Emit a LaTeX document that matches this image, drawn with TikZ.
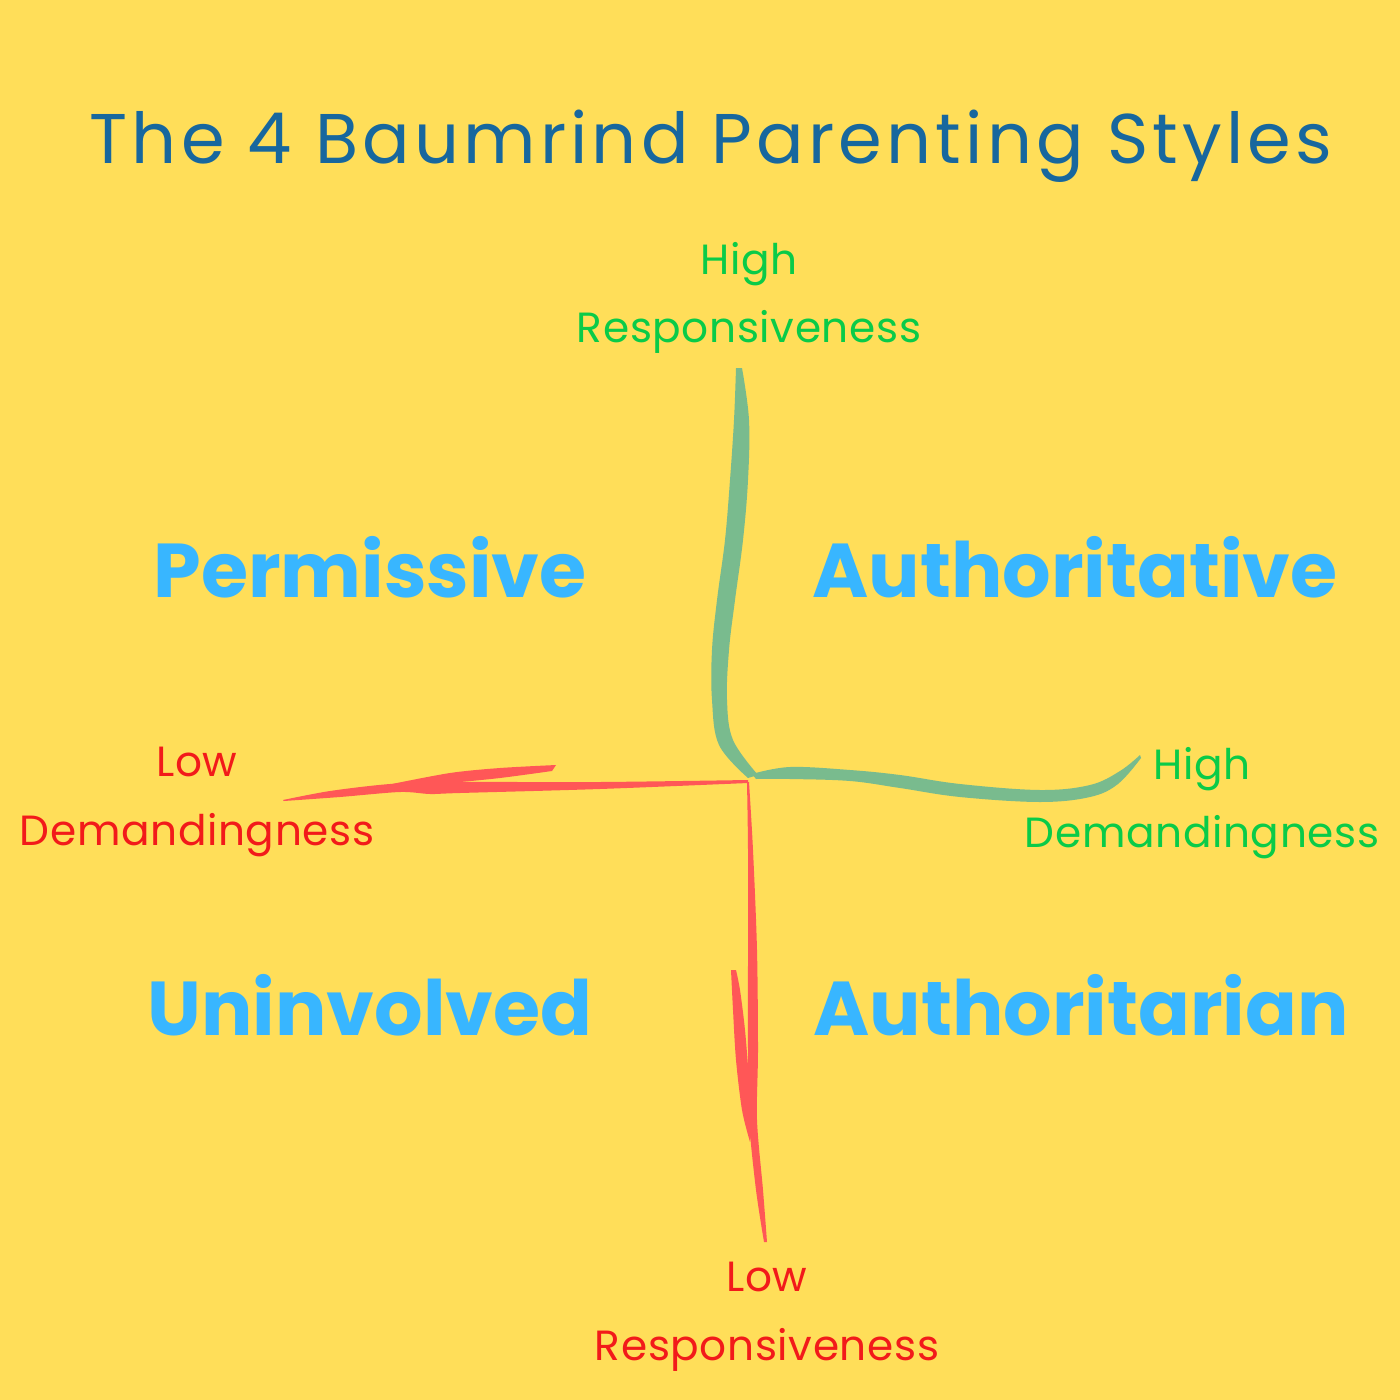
\documentclass[tikz,border=0pt]{standalone}
\usepackage{fontspec}
\setmainfont{Poppins}
\newfontfamily\titlefont{Poppins}[LetterSpace=6]
\newfontfamily\axisfont{Poppins}[LetterSpace=1.5]
\definecolor{bg}{HTML}{FFDE59}
\definecolor{titleblue}{HTML}{17679E}
\definecolor{quadblue}{HTML}{38B6FF}
\definecolor{higreen}{HTML}{0ACB48}
\definecolor{lored}{HTML}{F21A1A}
\definecolor{brushgreen}{HTML}{79BB8E}
\definecolor{brushred}{HTML}{FF5757}
\begin{document}
\begin{tikzpicture}[x=0.01cm,y=-0.01cm,
  quadlabel/.style={text=quadblue,font=\fontsize{21.7}{26}\selectfont\bfseries,anchor=base,inner sep=0pt},
  axislabel/.style={font=\axisfont\fontsize{12}{19.5}\selectfont,align=center,inner sep=0pt},
  highlabel/.style={axislabel,text=higreen},
  lowlabel/.style={axislabel,text=lored},
  greenbrush/.style={fill=brushgreen},
  redbrush/.style={fill=brushred}]
\fill[bg] (0,0) rectangle (1400,1400);
\useasboundingbox (0,0) rectangle (1400,1400);

% title
\node[anchor=base,text=titleblue,font=\titlefont\fontsize{20}{24}\selectfont,inner sep=0pt] (title) at (711,164) {The 4 Baumrind Parenting Styles};

% green brush: vertical (high responsiveness)
\fill[greenbrush] plot[smooth,tension=0.6] coordinates {(736,368) (734,420) (730,480) (725,540) (717,600) (712,650) (712,700) (719,745) (748,778)}
  -- plot[smooth,tension=0.6] coordinates {(758,775) (733,740) (727,700) (729,650) (735,600) (743,540) (748,480) (749,420) (742,368)} -- cycle;
% green brush: horizontal (high demandingness)
\fill[greenbrush] plot[smooth,tension=0.6] coordinates {(752,774) (790,767) (850,770) (900,775) (960,784) (1040,790) (1090,785) (1120,771) (1140,755)}
  -- plot[smooth,tension=0.6] coordinates {(1141,758) (1118,784) (1090,797) (1040,802) (960,797) (900,788) (850,781) (790,779) (756,779)} -- cycle;

% red brush: horizontal (low demandingness)
\fill[redbrush] plot[smooth,tension=0.5] coordinates {(748,780) (600,782) (450,782) (390,784) (330,791) (283,800)}
  -- plot[smooth,tension=0.5] coordinates {(284,801) (340,797) (400,792) (430,794) (460,793) (600,789) (748,783)} -- cycle;
\fill[redbrush] plot[smooth,tension=0.5] coordinates {(556,765) (500,768) (450,773) (392,784)}
  -- plot[smooth,tension=0.5] coordinates {(398,788) (450,783) (500,778) (552,771)} -- cycle;
% red brush: vertical (low responsiveness)
\fill[redbrush] plot[smooth,tension=0.5] coordinates {(747,782) (748,850) (748,950) (748,1050) (749,1120) (756,1190) (764,1242)}
  -- plot[smooth,tension=0.5] coordinates {(767,1242) (763,1190) (757,1120) (758,1050) (757,950) (753,850) (749,782)} -- cycle;
\fill[redbrush] plot[smooth,tension=0.5] coordinates {(731,970) (733,1010) (736,1060) (742,1110) (750,1142)}
  -- plot[smooth,tension=0.5] coordinates {(752,1130) (749,1080) (745,1030) (740,990) (736,970)} -- cycle;

% quadrant labels
\node[quadlabel] (perm) at (370,597) {Permissive};
\node[quadlabel] (auth) at (1075,597) {Authoritative};
\node[quadlabel] (uninv) at (370,1035) {Uninvolved};
\node[quadlabel] (autht) at (1081,1035) {Authoritarian};

% axis labels
\node[highlabel] (hiresp) at (749,298) {High\\Responsiveness};
\node[lowlabel] (lodem) at (197,802) {Low\\Demandingness};
\node[highlabel] (hidem) at (1202,803) {High\\Demandingness};
\node[lowlabel] (loresp) at (767,1317) {Low\\Responsiveness};
\end{tikzpicture}
\end{document}
